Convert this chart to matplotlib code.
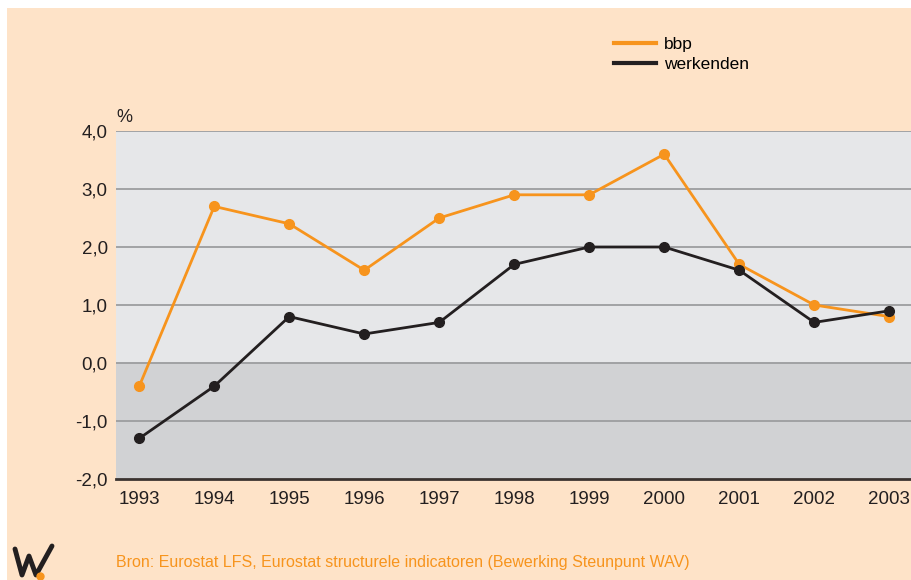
import matplotlib.pyplot as plt
import numpy as np

plt.rcParams['font.family'] = ['Liberation Sans', 'DejaVu Sans']

years = [1993, 1994, 1995, 1996, 1997, 1998, 1999, 2000, 2001, 2002, 2003]
bbp = [-0.4, 2.7, 2.4, 1.6, 2.5, 2.9, 2.9, 3.6, 1.7, 1.0, 0.8]
werkenden = [-1.3, -0.4, 0.8, 0.5, 0.7, 1.7, 2.0, 2.0, 1.6, 0.7, 0.9]
yticks = [-2, -1, 0, 1, 2, 3, 4]
ytick_labels = ['-2,0', '-1,0', '0,0', '1,0', '2,0', '3,0', '4,0']

peach = '#FEE3C8'
orange = '#F7941D'
black = '#231F20'
W, H = 911, 580

fig = plt.figure(figsize=(W / 100, H / 100), dpi=100)
fig.patch.set_facecolor('white')
# peach panel behind everything (white strip on top and left)
fig.patches.append(plt.Rectangle((7 / W, 0), 1, 1 - 8 / H, transform=fig.transFigure,
                                 facecolor=peach, edgecolor='none', zorder=-10))

ax = fig.add_axes([116 / W, 1 - 479 / H, (911 - 116) / W, (479 - 131) / H])
ax.set_facecolor('none')
ax.set_xlim(1993 - 0.31, 2003 + 0.29)
ax.set_ylim(-2, 4)

# shaded bands: positive light, negative darker
ax.axhspan(0, 4, color='#E6E7E9', zorder=0)
ax.axhspan(-2, 0, color='#D1D2D4', zorder=0)
for v in yticks[1:]:
    ax.axhline(v, color='#9C9D9F', lw=1.3, zorder=1)

ax.plot(years, bbp, color=orange, lw=2, marker='o', ms=7, zorder=3)
ax.plot(years, werkenden, color=black, lw=2, marker='o', ms=7, zorder=4)

for s in ['top', 'right', 'left']:
    ax.spines[s].set_visible(False)
ax.spines['bottom'].set_color('#3B3330')
ax.spines['bottom'].set_linewidth(2)

ax.set_xticks(years)
ax.set_xticklabels([str(y) for y in years])
ax.set_yticks(yticks)
ax.set_yticklabels(ytick_labels)
ax.tick_params(axis='both', length=0, labelsize=13.5, colors='#231F20')
ax.tick_params(axis='x', pad=9)
ax.tick_params(axis='y', pad=6)

ax.text(116 / W, 1 - 118 / H, '%', transform=fig.transFigure, fontsize=13,
        color='#231F20', ha='left', va='center')

# legend: plain line handles, no markers
handles = [plt.Line2D([], [], color=orange, lw=3),
           plt.Line2D([], [], color=black, lw=3)]
fig.legend(handles, ['bbp', 'werkenden'], loc='upper left',
           bbox_to_anchor=(607 / W, 1 - 30 / H), frameon=False,
           fontsize=12.5, handlelength=2.4, handletextpad=0.5, labelspacing=0.3,
           borderaxespad=0)

fig.text(116 / W, 1 - 563 / H,
         'Bron: Eurostat LFS, Eurostat structurele indicatoren (Bewerking Steunpunt WAV)',
         fontsize=11.5, color=orange, ha='left', va='center')

# logo
lx = np.array([15, 22, 29, 36, 52]) / W
ly = 1 - np.array([549, 575, 556, 575, 546]) / H
fig.add_artist(plt.Line2D(lx, ly, color=black, lw=3.5, solid_joinstyle='round',
                          solid_capstyle='round'))
fig.add_artist(plt.Line2D([40 / W], [1 - 576 / H], marker='o', ms=5, color=orange))

fig.savefig('out.png', dpi=100, facecolor=fig.get_facecolor())
